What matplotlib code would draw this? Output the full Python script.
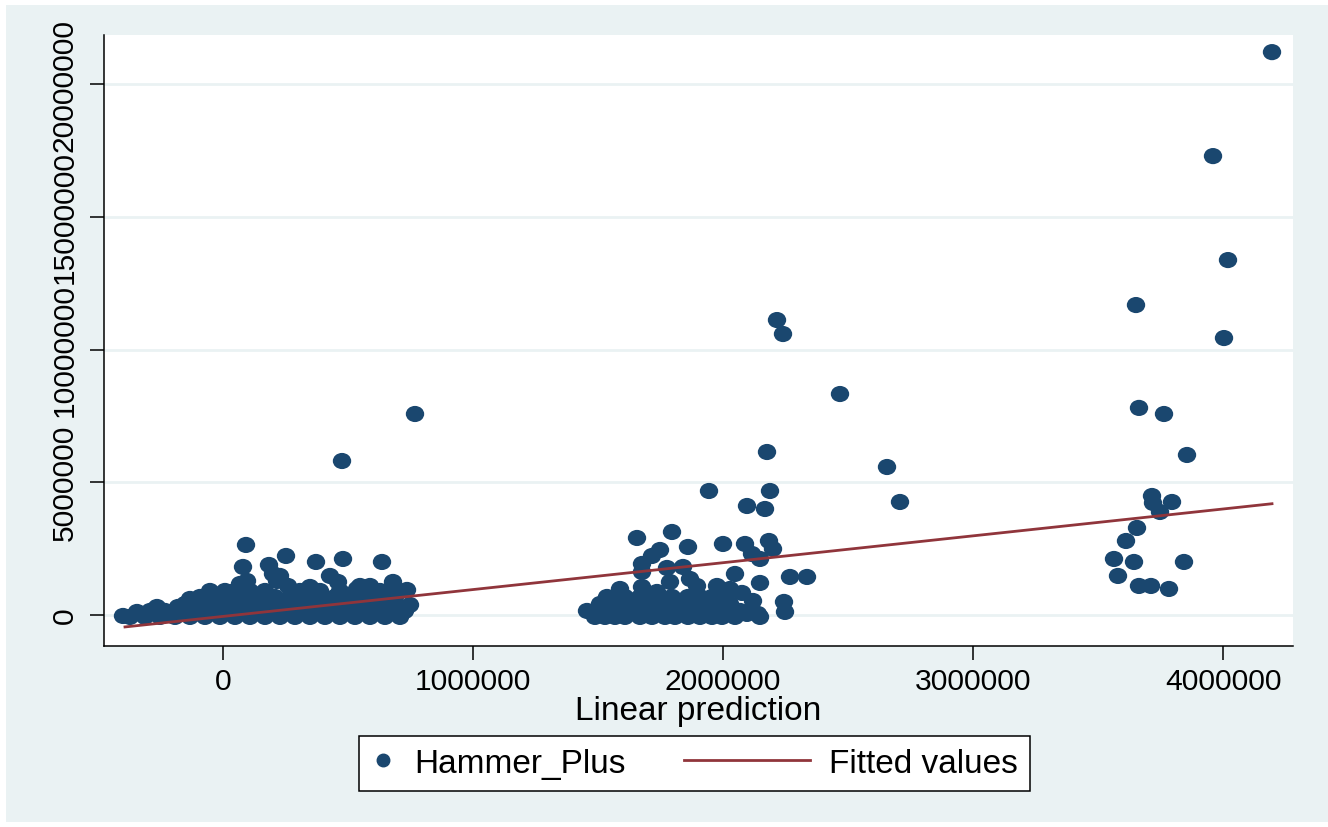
import numpy as np
import matplotlib
matplotlib.use("Agg")
import matplotlib.pyplot as plt
from matplotlib.patches import Rectangle
from matplotlib.path import Path
from matplotlib.lines import Line2D
from matplotlib.legend_handler import HandlerLine2D

plt.rcParams['font.family'] = ['Liberation Sans', 'DejaVu Sans']

# --- data ---
# cluster near 0 .. 0.8M
cluster_a = [
    (768000, 7571000), (476000, 5800000), (92000, 2637000), (80000, 1808000),
    (184000, 1883000), (252000, 2222000), (372000, 1996000), (480000, 2109000),
    (636000, 1996000), (428000, 1469000), (460000, 1243000), (680000, 1243000),
    (736000, 942000), (748000, 377000), (648000, -38000), (200000, 1544000),
    (216000, 1281000), (260000, 1092000), (96000, 1281000), (68000, 1168000),
    (-52000, 904000), (8000, 904000), (-132000, 603000), (-180000, 301000),
    (-264000, 301000), (-344000, 113000), (-400000, -38000), (348000, 1055000),
    (388000, 904000), (536000, 979000), (576000, 979000), (628000, 904000),
    (228000, 1469000), (548000, 1092000), (588000, 1092000),
    # dense band
    (-372000, -75000), (-312000, -75000), (-252000, -75000), (-192000, -75000),
    (-132000, -75000), (-72000, -75000), (-12000, -75000), (48000, -75000),
    (108000, -75000), (168000, -75000), (228000, -75000), (288000, -75000),
    (348000, -75000), (408000, -75000), (468000, -75000), (528000, -75000),
    (588000, -75000), (648000, -75000), (708000, -75000),
    (-292000, 151000), (-232000, 151000), (-172000, 151000), (-112000, 151000),
    (-52000, 151000), (8000, 151000), (68000, 151000), (128000, 151000),
    (188000, 151000), (248000, 151000), (308000, 151000), (368000, 151000),
    (428000, 151000), (488000, 151000), (548000, 151000), (608000, 151000),
    (668000, 151000), (728000, 151000),
    (-152000, 414000), (-92000, 414000), (-32000, 414000), (28000, 414000),
    (88000, 414000), (148000, 414000), (208000, 414000), (268000, 414000),
    (328000, 414000), (388000, 414000), (448000, 414000), (508000, 414000),
    (568000, 414000), (628000, 414000), (688000, 414000),
    (-92000, 678000), (-32000, 678000), (28000, 678000), (88000, 678000),
    (148000, 678000), (208000, 678000), (268000, 678000), (328000, 678000),
    (388000, 678000), (448000, 678000), (508000, 678000), (568000, 678000),
    (628000, 678000), (688000, 678000),
    (48000, 904000), (108000, 904000), (168000, 904000), (308000, 904000),
    (468000, 904000), (668000, 904000),
]

# cluster around 1.5M .. 2.7M
cluster_b = [
    (2216000, 11111000), (2240000, 10584000), (2468000, 8324000), (2656000, 5574000),
    (2708000, 4256000), (2176000, 6139000), (1944000, 4670000), (2188000, 4670000),
    (2096000, 4105000), (2168000, 3992000), (1656000, 2900000), (1796000, 3126000),
    (1860000, 2561000), (2000000, 2674000), (2088000, 2674000), (2184000, 2787000),
    (2200000, 2486000), (2148000, 2109000), (2116000, 2298000), (1748000, 2448000),
    (1716000, 2222000), (1676000, 1921000), (1676000, 1620000), (1776000, 1770000),
    (1840000, 1808000), (2048000, 1544000), (2268000, 1431000), (2336000, 1431000),
    (2148000, 1205000), (1788000, 1243000), (1868000, 1356000), (2244000, 490000),
    (2248000, 113000), (2120000, 527000), (2076000, 829000), (2028000, 979000),
    (1976000, 1092000), (1896000, 1092000), (1588000, 979000), (1676000, 1055000),
    (1736000, 866000), (1536000, 678000), (1508000, 414000), (1456000, 151000),
    (1488000, -75000), (2140000, 38000), (2096000, 38000),
    # dense band
    (1528000, -75000), (1568000, -75000), (1608000, -75000), (1668000, -75000),
    (1716000, -75000), (1768000, -75000), (1808000, -75000), (1860000, -75000),
    (1908000, -75000), (1956000, -75000), (1996000, -75000), (2048000, -75000),
    (2148000, -75000),
    (1556000, 151000), (1628000, 151000), (1688000, 151000), (1748000, 151000),
    (1796000, 151000), (1848000, 151000), (1896000, 151000), (1948000, 151000),
    (2008000, 151000), (2068000, 151000),
    (1588000, 414000), (1648000, 414000), (1700000, 414000), (1760000, 414000),
    (1820000, 414000), (1876000, 414000), (1928000, 414000), (1980000, 414000),
    (2028000, 414000),
    (1608000, 678000), (1668000, 678000), (1728000, 678000), (1796000, 678000),
    (1860000, 678000), (1908000, 678000), (1956000, 678000), (2008000, 678000),
]

# cluster around 3.6M .. 4.2M
cluster_c = [
    (4196000, 21205000), (3960000, 17288000), (4020000, 13371000), (3652000, 11676000),
    (4004000, 10433000), (3664000, 7800000), (3764000, 7571000), (3856000, 6027000),
    (3716000, 4482000), (3720000, 4218000), (3796000, 4256000), (3748000, 3879000),
    (3656000, 3277000), (3612000, 2787000), (3564000, 2109000), (3644000, 1996000),
    (3844000, 1996000), (3580000, 1469000), (3664000, 1092000), (3712000, 1092000),
    (3784000, 979000),
]

fit_x = [-392000, 4196000]
fit_y = [-452000, 4190000]

x_ticks = [0, 1000000, 2000000, 3000000, 4000000]
x_tick_labels = ['0', '1000000', '2000000', '3000000', '4000000']
y_ticks = [0, 5000000, 10000000, 15000000, 20000000]
y_tick_labels = ['0', '5000000', '10000000', '15000000', '20000000']

navy = '#1A476F'
maroon = '#90353B'
bluegray = '#EAF2F3'

pts = np.array(cluster_a + cluster_b + cluster_c, dtype=float)

# slightly wide ellipse marker like the original
circ = Path.unit_circle()
ell = Path(circ.vertices * np.array([1.0, 0.88]), circ.codes)

fig = plt.figure(figsize=(13.28, 8.28), dpi=100, facecolor='white')
bg = Rectangle((6 / 1328, 5 / 828), 1 - 6 / 1328, 1 - 11 / 828,
               transform=fig.transFigure, facecolor=bluegray, edgecolor='none', zorder=-5)
fig.add_artist(bg)

ax = fig.add_axes([104 / 1328, 181 / 828, 1189 / 1328, 611 / 828])
ax.set_facecolor('white')

ax.scatter(pts[:, 0], pts[:, 1], s=175, marker=ell, color=navy, edgecolors='none', zorder=3)
fit_line, = ax.plot(fit_x, fit_y, color=maroon, lw=2.0, zorder=4)

ax.set_xlim(-476000, 4280000)
ax.set_ylim(-1170000, 21850000)
ax.set_xticks(x_ticks)
ax.set_xticklabels(x_tick_labels)
ax.set_yticks(y_ticks)
ax.set_yticklabels(y_tick_labels, rotation=90, va='center')

ax.grid(axis='y', color=bluegray, lw=2.0, zorder=1)
ax.set_axisbelow(True)
for side in ['top', 'right']:
    ax.spines[side].set_visible(False)
for side in ['left', 'bottom']:
    ax.spines[side].set_linewidth(1.1)
    ax.spines[side].set_color('black')

ax.tick_params(axis='both', direction='out', length=10, width=1.1, labelsize=21.6)
ax.tick_params(axis='y', pad=8)
ax.tick_params(axis='x', pad=5)
ax.set_xlabel('Linear prediction', fontsize=24, labelpad=0)


class LongLineHandler(HandlerLine2D):
    # draws the legend line further to the left than the handle box
    def __init__(self, extra, **kw):
        super().__init__(**kw)
        self.extra = extra

    def create_artists(self, legend, orig_handle, xdescent, ydescent, width, height, fontsize, trans):
        return super().create_artists(legend, orig_handle, xdescent + self.extra, ydescent,
                                      width + self.extra, height, fontsize, trans)


dot_handle = Line2D([], [], marker='o', ls='none', ms=9, color=navy)
leg = ax.legend([dot_handle, fit_line], ['Hammer_Plus', 'Fitted values'],
                handler_map={fit_line: LongLineHandler(73.4)},
                ncol=2, loc='center', bbox_to_anchor=(694.5 / 1328, 1 - 764.5 / 828),
                bbox_transform=fig.transFigure, fontsize=24, numpoints=1,
                handlelength=0.72, handletextpad=0.57, borderpad=0.36,
                columnspacing=4.8, fancybox=False, framealpha=1, borderaxespad=0)
leg.get_frame().set_edgecolor('black')
leg.get_frame().set_linewidth(1.1)

fig.savefig('out.png', dpi=100, facecolor=fig.get_facecolor())
